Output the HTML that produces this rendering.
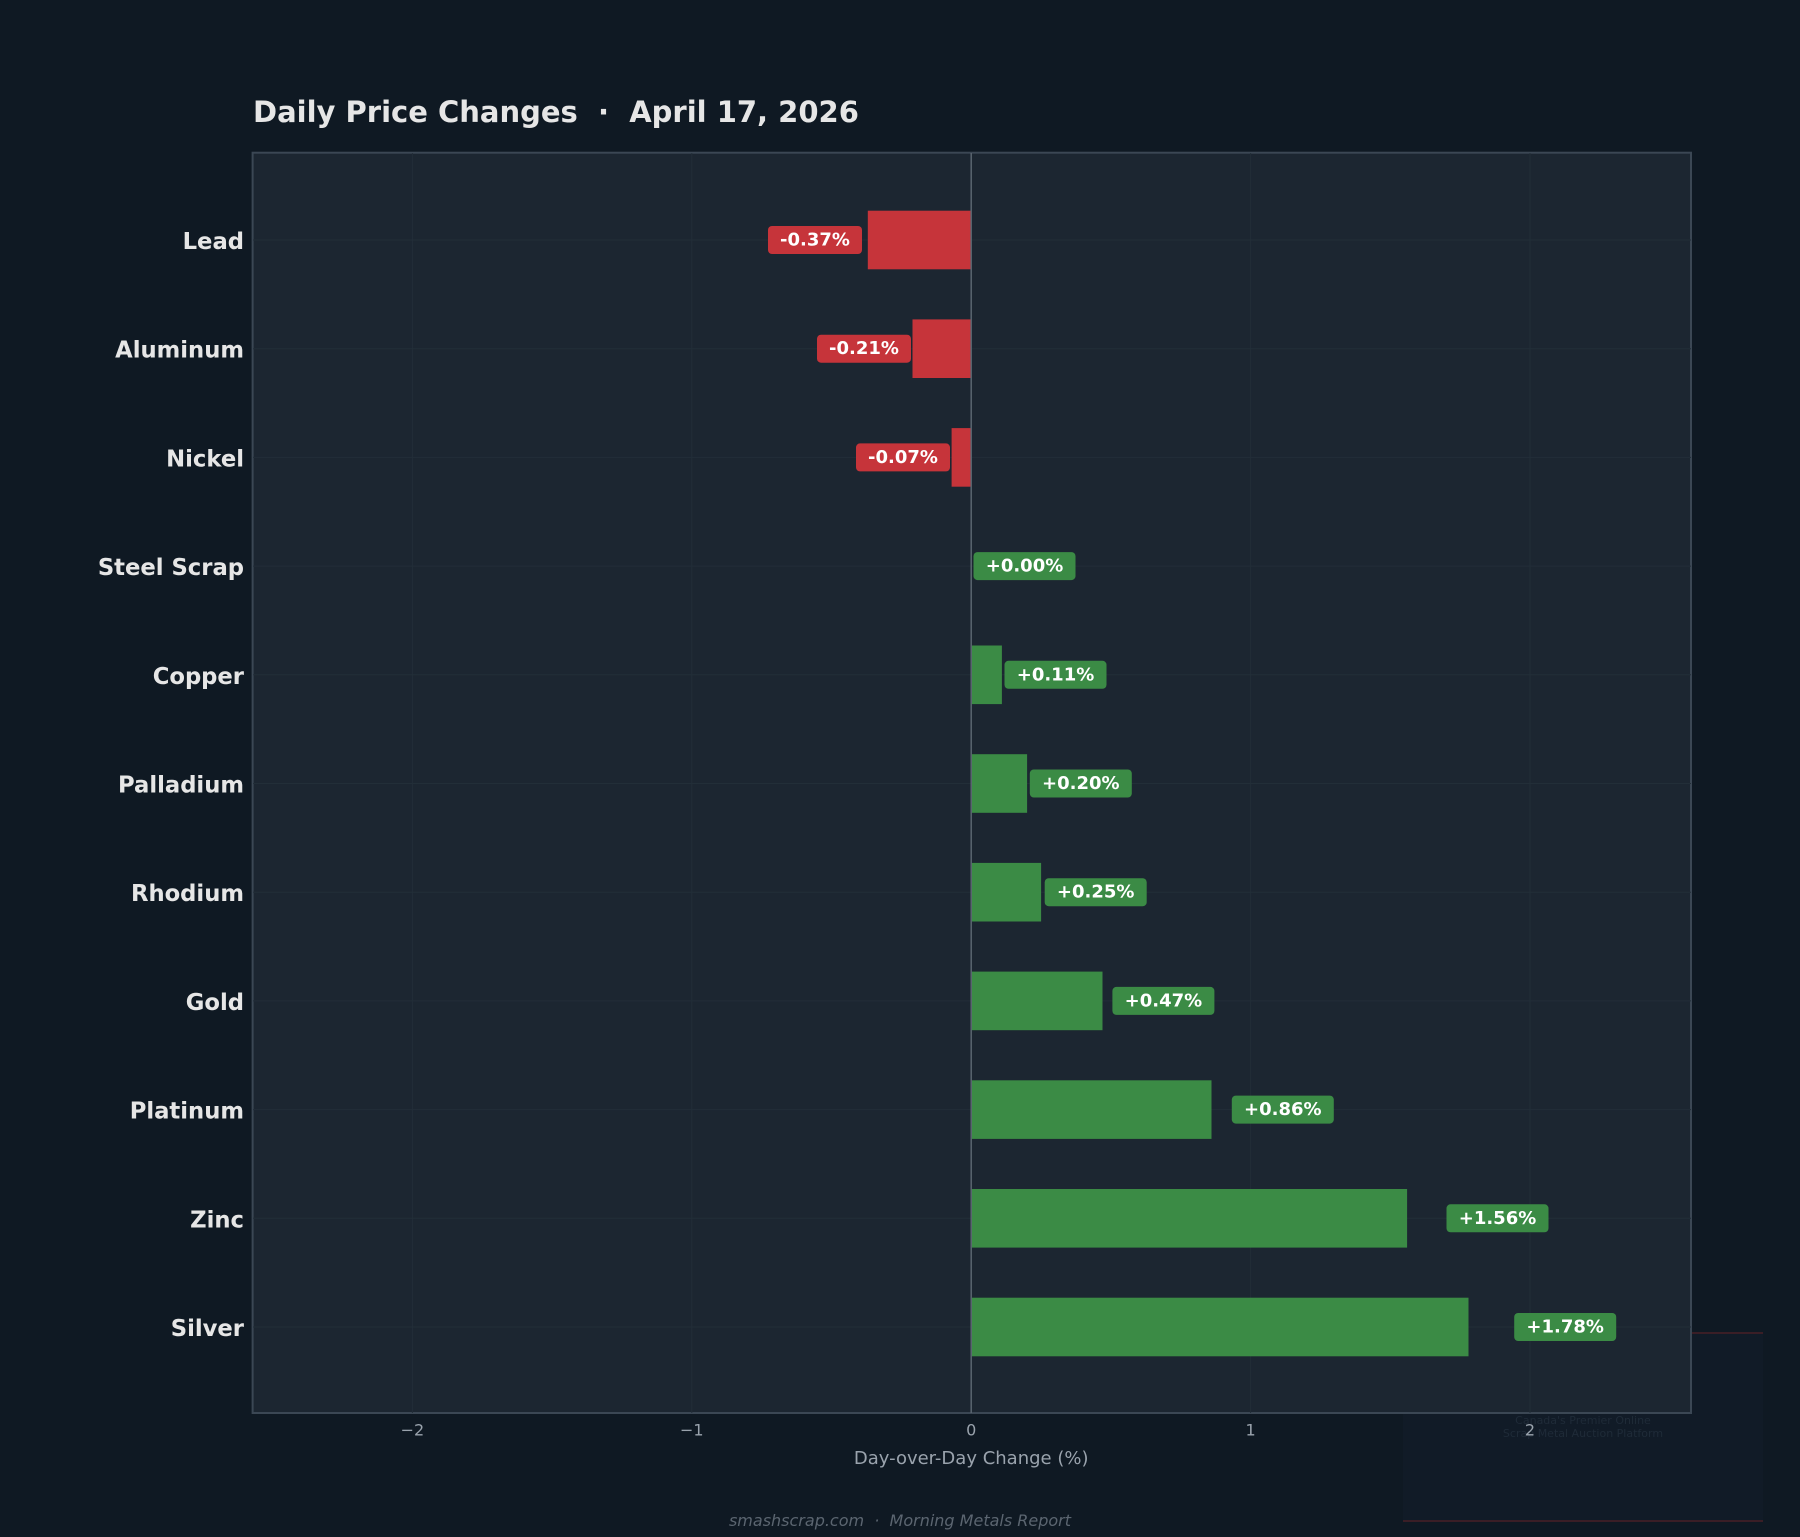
<!DOCTYPE html>
<html><head><meta charset="utf-8"><style>
html,body{margin:0;padding:0;background:#0f1923;}
svg{display:block;font-family:"DejaVu Sans","Liberation Sans",sans-serif;}
text{white-space:pre;}
</style></head><body>
<svg width="1800" height="1537" viewBox="0 0 1800 1537" xmlns="http://www.w3.org/2000/svg" xml:space="preserve">
<rect width="1800" height="1537" fill="#0f1923"/>
<rect x="1403" y="1332" width="360" height="190" fill="#111b27"/>
<line x1="1403" y1="1333" x2="1763" y2="1333" stroke="#3a1e26" stroke-width="2"/>
<line x1="1403" y1="1521" x2="1763" y2="1521" stroke="#3a1e26" stroke-width="2"/>
<text x="1583" y="1424" font-size="11" fill="#1f2b38" text-anchor="middle">Canada's Premier Online</text>
<text x="1583" y="1437" font-size="11" fill="#1f2b38" text-anchor="middle">Scrap Metal Auction Platform</text>
<text x="253" y="122" font-size="29" font-weight="bold" fill="#e6e6e6">Daily Price Changes  ·  April 17, 2026</text>
<rect x="252.6" y="152.7" width="1438.4" height="1260.3" fill="#1c2631" stroke="#3b4754" stroke-width="2"/>
<g stroke="#222e38" stroke-width="1">
<line x1="412.4" y1="153" x2="412.4" y2="1413"/><line x1="691.8" y1="153" x2="691.8" y2="1413"/>
<line x1="1250.6" y1="153" x2="1250.6" y2="1413"/><line x1="1530" y1="153" x2="1530" y2="1413"/>
<line x1="253" y1="240" x2="1691" y2="240"/><line x1="253" y1="348.7" x2="1691" y2="348.7"/>
<line x1="253" y1="457.4" x2="1691" y2="457.4"/><line x1="253" y1="566.1" x2="1691" y2="566.1"/>
<line x1="253" y1="674.8" x2="1691" y2="674.8"/><line x1="253" y1="783.5" x2="1691" y2="783.5"/>
<line x1="253" y1="892.2" x2="1691" y2="892.2"/><line x1="253" y1="1000.9" x2="1691" y2="1000.9"/>
<line x1="253" y1="1109.6" x2="1691" y2="1109.6"/><line x1="253" y1="1218.3" x2="1691" y2="1218.3"/>
<line x1="253" y1="1327" x2="1691" y2="1327"/>
</g>
<g fill="#c6343a">
<rect x="867.8" y="210.7" width="103.4" height="58.6"/>
<rect x="912.5" y="319.4" width="58.7" height="58.6"/>
<rect x="951.6" y="428.1" width="19.6" height="58.6"/>
</g>
<g fill="#3b8b45">
<rect x="971.2" y="645.5" width="30.7" height="58.6"/>
<rect x="971.2" y="754.2" width="55.9" height="58.6"/>
<rect x="971.2" y="862.9" width="69.9" height="58.6"/>
<rect x="971.2" y="971.6" width="131.3" height="58.6"/>
<rect x="971.2" y="1080.3" width="240.3" height="58.6"/>
<rect x="971.2" y="1189" width="435.9" height="58.6"/>
<rect x="971.2" y="1297.7" width="497.3" height="58.6"/>
</g>
<line x1="971.2" y1="153" x2="971.2" y2="1413" stroke="#5a6570" stroke-width="1.5"/>
<g font-size="18" font-weight="bold" fill="#ffffff" text-anchor="middle" dominant-baseline="central">
<rect x="768" y="226" width="94" height="28" rx="4" fill="#c6343a"/><text x="815" y="240">-0.37%</text>
<rect x="817" y="334.7" width="94" height="28" rx="4" fill="#c6343a"/><text x="864" y="348.7">-0.21%</text>
<rect x="856" y="443.4" width="94" height="28" rx="4" fill="#c6343a"/><text x="903" y="457.4">-0.07%</text>
<rect x="973.5" y="552.1" width="102" height="28" rx="4" fill="#3b8b45"/><text x="1024.5" y="566.1">+0.00%</text>
<rect x="1004.5" y="660.8" width="102" height="28" rx="4" fill="#3b8b45"/><text x="1055.5" y="674.8">+0.11%</text>
<rect x="1029.8" y="769.5" width="102" height="28" rx="4" fill="#3b8b45"/><text x="1080.8" y="783.5">+0.20%</text>
<rect x="1044.7" y="878.2" width="102" height="28" rx="4" fill="#3b8b45"/><text x="1095.7" y="892.2">+0.25%</text>
<rect x="1112.4" y="986.9" width="102" height="28" rx="4" fill="#3b8b45"/><text x="1163.4" y="1000.9">+0.47%</text>
<rect x="1231.8" y="1095.6" width="102" height="28" rx="4" fill="#3b8b45"/><text x="1282.8" y="1109.6">+0.86%</text>
<rect x="1446.5" y="1204.3" width="102" height="28" rx="4" fill="#3b8b45"/><text x="1497.5" y="1218.3">+1.56%</text>
<rect x="1514.2" y="1313" width="102" height="28" rx="4" fill="#3b8b45"/><text x="1565.2" y="1327">+1.78%</text>
</g>
<g font-size="22.7" font-weight="bold" fill="#e6e6e6" text-anchor="end" dominant-baseline="central">
<text x="244" y="242">Lead</text><text x="244" y="350.7">Aluminum</text><text x="244" y="459.4">Nickel</text>
<text x="244" y="568.1">Steel Scrap</text><text x="244" y="676.8">Copper</text><text x="244" y="785.5">Palladium</text>
<text x="244" y="894.2">Rhodium</text><text x="244" y="1002.9">Gold</text><text x="244" y="1111.6">Platinum</text>
<text x="244" y="1220.3">Zinc</text><text x="244" y="1329">Silver</text>
</g>
<g font-size="16" fill="#9aa3ad" text-anchor="middle" dominant-baseline="central">
<text x="412.4" y="1430">−2</text><text x="691.8" y="1430">−1</text><text x="971.2" y="1430">0</text>
<text x="1250.6" y="1430">1</text><text x="1530" y="1430">2</text>
</g>
<text x="971.2" y="1464" font-size="18" fill="#9aa3ad" text-anchor="middle">Day-over-Day Change (%)</text>
<text x="900" y="1526" font-size="16" font-style="italic" fill="#5b6570" text-anchor="middle">smashscrap.com  ·  Morning Metals Report</text>
</svg>
</body></html>
